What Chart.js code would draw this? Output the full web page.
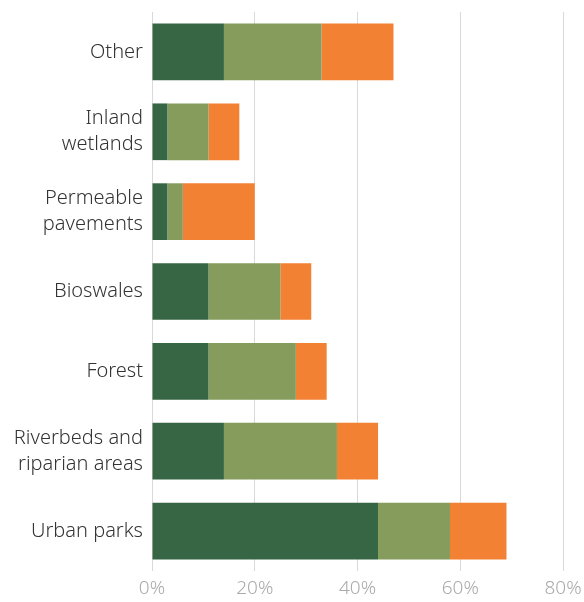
<!DOCTYPE html>
<html>
<head>
<meta charset="utf-8">
<script src="https://cdn.jsdelivr.net/npm/chart.js@4"></script>
<style>
  body { margin: 0; background: #fff; }
</style>
</head>
<body>
<canvas id="chart" width="584" height="602"></canvas>
<script>
'use strict';

const categories = [
  'Other',
  ['Inland', 'wetlands'],
  ['Permeable', 'pavements'],
  'Bioswales',
  'Forest',
  ['Riverbeds and', 'riparian areas'],
  'Urban parks',
];
const seriesA = [14, 3, 3, 11, 11, 14, 44];
const seriesB = [19, 8, 3, 14, 17, 22, 14];
const seriesC = [14, 6, 14, 6, 6, 8, 11];
const xTicks = [0, 20, 40, 60, 80];

const ctx = document.getElementById('chart').getContext('2d');

const chart = new Chart(ctx, {
  type: 'bar',
  data: {
    labels: categories,
    datasets: [
      { data: seriesA, backgroundColor: '#376645' },
      { data: seriesB, backgroundColor: '#859c5c' },
      { data: seriesC, backgroundColor: '#f38133' },
    ]
  },
  options: {
    indexAxis: 'y',
    responsive: false,
    animation: false,
    layout: { padding: { top: 12, right: 21, bottom: 0, left: 0 } },
    datasets: { bar: { categoryPercentage: 1, barPercentage: 0.71 } },
    plugins: { legend: { display: false }, tooltip: { enabled: false } },
    scales: {
      x: {
        stacked: true,
        min: 0,
        max: 80,
        afterBuildTicks: (axis) => { axis.ticks = xTicks.map(v => ({ value: v })); },
        afterFit: (axis) => {
          axis.height = 31;
          axis.paddingLeft = 0;
          axis.paddingRight = 0;
        },
        grid: { color: '#d9d9d9', drawTicks: false },
        border: { display: false },
        ticks: {
          padding: 6,
          color: '#aaaaaa',
          font: { family: 'Noto Sans', size: 19, weight: 300 },
          callback: (v) => v + '%'
        }
      },
      y: {
        stacked: true,
        afterFit: (axis) => {
          axis.width = 152;
          axis.paddingTop = 0;
          axis.paddingBottom = 0;
        },
        grid: { display: false, drawTicks: false },
        border: { display: false },
        ticks: {
          padding: 9,
          color: '#333333',
          font: { family: 'Noto Sans', size: 20, weight: 300, lineHeight: 1.3 }
        }
      }
    }
  }
});
</script>
</body>
</html>
